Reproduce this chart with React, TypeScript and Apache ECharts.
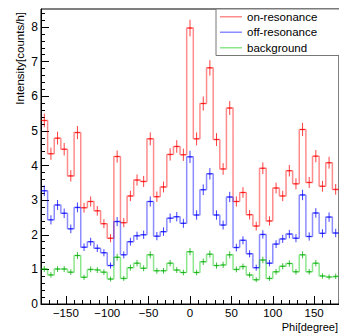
import React, { useEffect, useRef } from "react";
import * as echarts from "echarts";

// Bin centres (degrees), 8-degree bins from -180 to 180
const binCenters = [
  -176, -168, -160, -152, -144, -136, -128, -120, -112, -104, -96, -88, -80, -72, -64,
  -56, -48, -40, -32, -24, -16, -8, 0, 8, 16, 24, 32, 40, 48, 56,
  64, 72, 80, 88, 96, 104, 112, 120, 128, 136, 144, 152, 160, 168, 176,
];
const BIN_WIDTH = 8;

const onResonance = [
  5.3, 4.34, 4.79, 4.47, 3.7, 4.95, 2.78, 2.96, 2.69, 2.32, 1.9, 4.26, 2.35, 3.12, 3.58,
  3.54, 4.77, 3.1, 3.38, 4.32, 4.55, 4.31, 7.97, 4.77, 5.79, 6.82, 4.75, 3.9, 5.66, 2.96,
  3.22, 2.58, 2.25, 3.92, 2.4, 3.35, 3.12, 3.85, 3.47, 5.04, 3.51, 4.27, 3.4, 4.08, 3.31,
];
const offResonance = [
  3.27, 2.43, 2.86, 2.62, 2.17, 2.79, 1.64, 1.8, 1.61, 1.48, 1.11, 2.38, 1.42, 1.8, 1.97,
  2.0, 2.96, 1.96, 2.09, 2.48, 2.52, 2.33, 4.25, 2.57, 3.3, 3.76, 2.57, 2.28, 3.09, 1.63,
  1.84, 1.45, 1.05, 2.01, 1.18, 1.73, 1.88, 2.02, 1.9, 3.15, 1.95, 2.63, 2.04, 2.51, 2.05,
];
const background = [
  1.01, 0.84, 1.01, 1.01, 0.92, 1.4, 0.77, 1.0, 0.98, 0.92, 0.72, 1.35, 0.74, 1.05, 1.18,
  1.03, 1.42, 0.96, 0.96, 1.18, 0.98, 0.91, 1.51, 0.91, 1.22, 1.44, 1.11, 1.13, 1.42, 1.0,
  1.08, 0.84, 0.7, 1.27, 0.74, 0.93, 1.09, 1.17, 0.93, 1.42, 0.93, 1.18, 0.81, 0.78, 0.8,
];
// Poisson-like statistical error scale (counts/h per sqrt(counts/h))
const ERR_SCALE = 0.085;

const xMajorTicks = [-150, -100, -50, 0, 50, 100, 150];
const yTicks = [0, 1, 2, 3, 4, 5, 6, 7, 8];

const seriesDefs = [
  { name: "on-resonance", values: onResonance, line: "rgba(255,0,0,0.45)", err: "rgba(255,0,0,0.75)" },
  { name: "off-resonance", values: offResonance, line: "rgba(0,0,255,0.45)", err: "rgba(0,0,255,0.75)" },
  { name: "background", values: background, line: "rgba(0,200,0,0.45)", err: "rgba(0,170,0,0.75)" },
];

const FONT = "'Liberation Sans', Arial, Helvetica, sans-serif";

export default function App() {
  const ref = useRef<HTMLDivElement>(null);
  useEffect(() => {
    if (!ref.current) return;
    const chart = echarts.init(ref.current, null, { renderer: "svg" });

    const series: any[] = [];
    seriesDefs.forEach((s) => {
      const stepData = binCenters.map((c, i) => [c - BIN_WIDTH / 2, s.values[i]]);
      stepData.push([binCenters[binCenters.length - 1] + BIN_WIDTH / 2, s.values[s.values.length - 1]]);
      series.push({
        name: s.name,
        type: "line",
        step: "end",
        data: stepData,
        symbol: "none",
        showSymbol: false,
        lineStyle: { color: s.line, width: 1.5 },
        itemStyle: { color: s.line },
        xAxisIndex: 0,
        z: 2,
      });
      series.push({
        name: s.name + " err",
        type: "custom",
        xAxisIndex: 0,
        data: binCenters.map((c, i) => [c, s.values[i], ERR_SCALE * Math.sqrt(s.values[i])]),
        renderItem: (params: any, api: any) => {
          const c = api.value(0);
          const v = api.value(1);
          const e = api.value(2);
          const top = api.coord([c, v + e]);
          const bot = api.coord([c, v - e]);
          const mid = api.coord([c, v]);
          const st = { stroke: s.err, lineWidth: 1 };
          return {
            type: "group",
            children: [
              { type: "line", shape: { x1: top[0], y1: top[1], x2: bot[0], y2: bot[1] }, style: st },
              { type: "line", shape: { x1: mid[0] - 2.5, y1: mid[1], x2: mid[0] + 2.5, y2: mid[1] }, style: st },
            ],
          };
        },
        z: 3,
        silent: true,
      });
    });

    chart.setOption({
      animation: false,
      grid: {
        left: 41,
        top: 9,
        right: -4,
        bottom: 29,
        show: true,
        borderColor: "#000",
        borderWidth: 1,
        backgroundColor: "transparent",
      },
      legend: {
        data: seriesDefs.map((s) => ({ name: s.name, icon: "rect", itemStyle: { color: s.line } })),
        orient: "vertical",
        left: 216,
        top: 9,
        padding: [1, 40, 1, 4],
        itemGap: 2,
        itemWidth: 22,
        itemHeight: 1.5,
        backgroundColor: "#fff",
        borderColor: "#777",
        borderWidth: 1,
        borderRadius: 0,
        selectedMode: false,
        textStyle: { fontFamily: FONT, fontSize: 11.5, color: "#000", lineHeight: 13.5 },
      },
      xAxis: [
        {
          type: "value",
          min: -180,
          max: 180,
          position: "bottom",
          splitLine: { show: false },
          axisLine: { show: true, onZero: false, lineStyle: { color: "#000", width: 1 } },
          axisTick: {
            show: true,
            inside: true,
            length: 8,
            customValues: xMajorTicks,
            lineStyle: { color: "#000" },
          },
          axisLabel: {
            show: true,
            customValues: xMajorTicks,
            margin: 3,
            fontFamily: FONT,
            fontSize: 11.5,
            color: "#000",
            formatter: (v: number) => (v < 0 ? "\u2212" + Math.abs(v) : String(v)),
          },
        },
        {
          type: "value",
          min: -180,
          max: 180,
          interval: 10,
          position: "bottom",
          splitLine: { show: false },
          axisLine: { show: false, onZero: false },
          axisTick: { show: true, inside: true, length: 4, lineStyle: { color: "#000" } },
          axisLabel: { show: false },
        },
      ],
      yAxis: {
        type: "value",
        min: 0,
        max: 8.52,
        interval: 1,
        splitLine: { show: false },
        axisLine: { show: true, onZero: false, lineStyle: { color: "#000", width: 1 } },
        axisTick: { show: true, inside: true, length: 8, customValues: yTicks, lineStyle: { color: "#000" } },
        minorTick: { show: true, splitNumber: 5, length: 4, lineStyle: { color: "#000" } },
        axisLabel: {
          show: true,
          customValues: yTicks,
          margin: 3,
          fontFamily: FONT,
          fontSize: 12,
          color: "#000",
        },
      },
      graphic: [
        {
          type: "text",
          x: 20,
          y: 12,
          rotation: Math.PI / 2,
          style: {
            text: "Intensity[counts/h]",
            fontFamily: FONT,
            fontSize: 11.5,
            fill: "#000",
            align: "right",
            verticalAlign: "middle",
          },
        },
        {
          type: "text",
          x: 338,
          y: 326.5,
          style: {
            text: "Phi[degree]",
            fontFamily: FONT,
            fontSize: 11,
            fill: "#000",
            align: "right",
            verticalAlign: "middle",
          },
        },
      ],
      series,
    });
    return () => chart.dispose();
  }, []);
  return (
    <div
      ref={ref}
      style={{ position: "fixed", left: 0, top: 0, width: 339, height: 333, background: "#fff" }}
    />
  );
}
